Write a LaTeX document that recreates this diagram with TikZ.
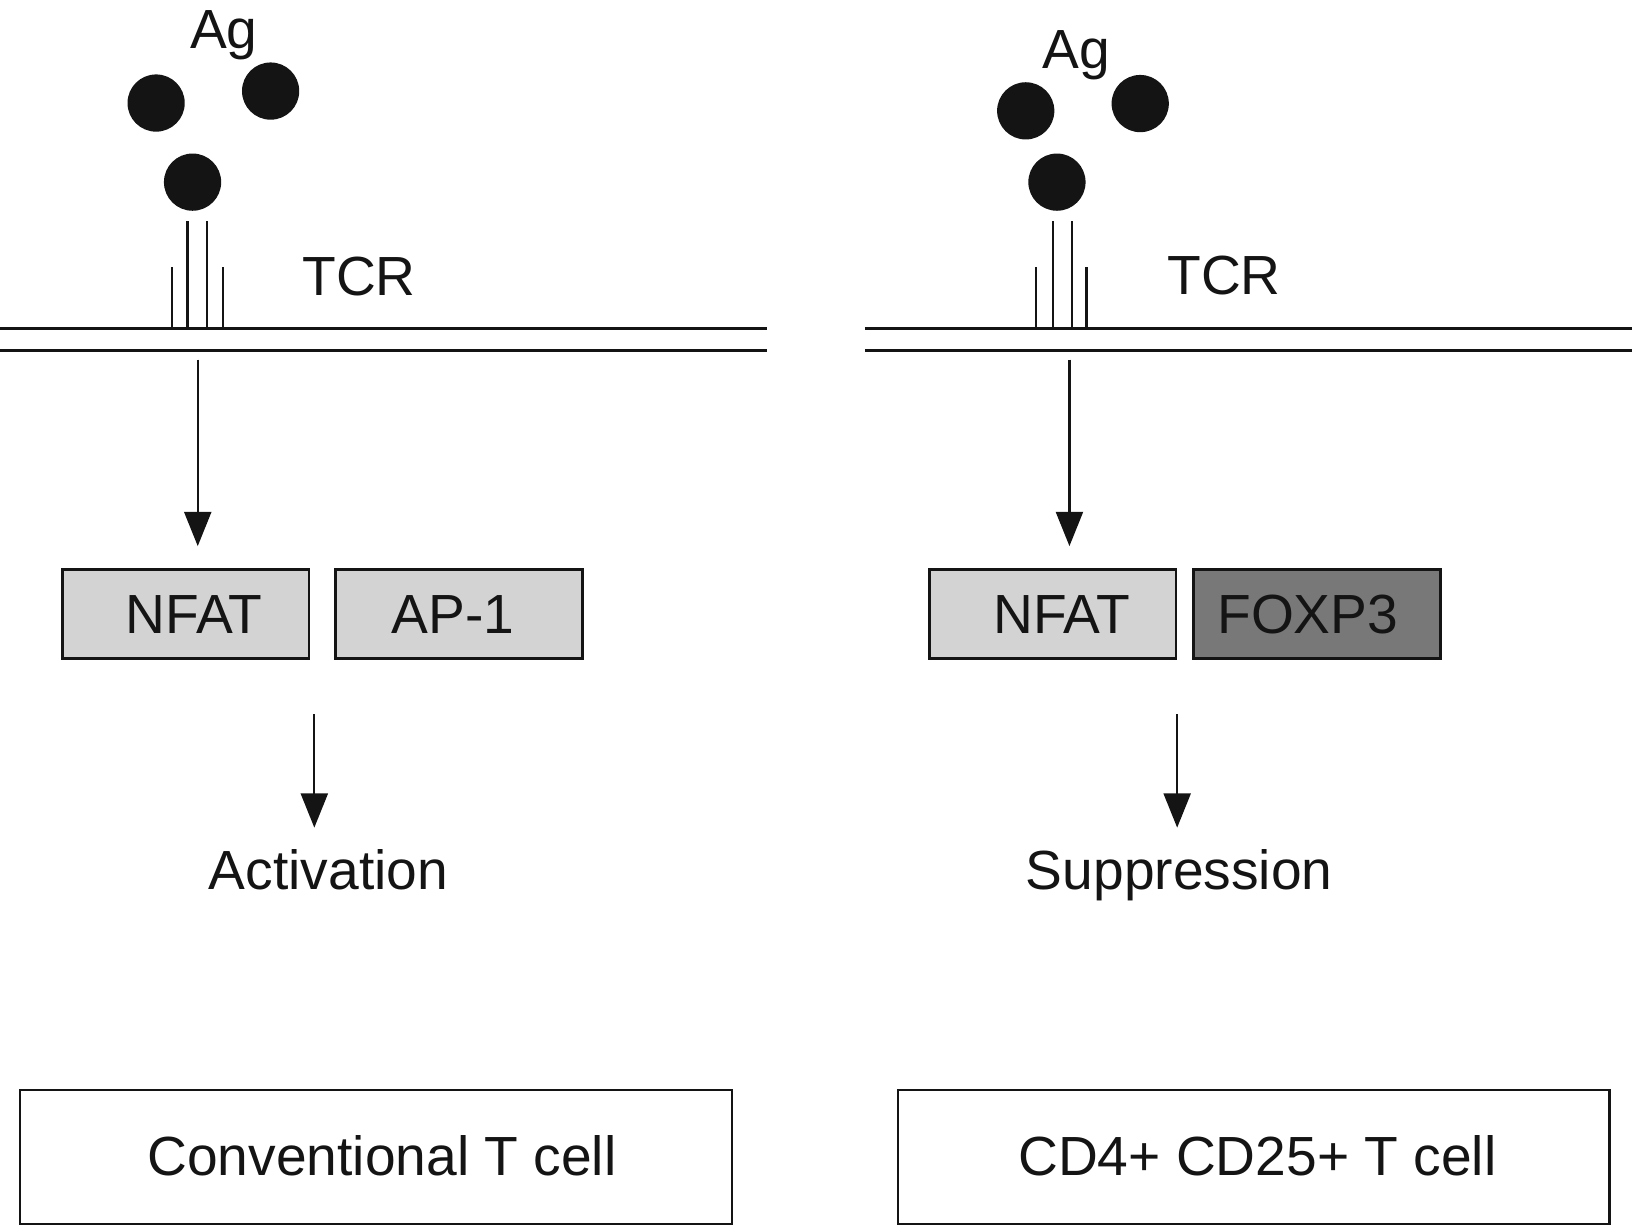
\documentclass[tikz,border=0pt]{standalone}
\usepackage{fontspec}
\setmainfont{Liberation Sans}
\usetikzlibrary{arrows.meta,calc}
\definecolor{ink}{HTML}{141414}
\definecolor{lightbox}{HTML}{D3D3D3}
\definecolor{darkbox}{HTML}{787878}
\begin{document}
\begin{tikzpicture}[x=0.5pt,y=-0.5pt,
  lbl/.style={font=\fontsize{26.5}{30}\selectfont, text=ink, inner sep=0pt},
  tfbox/.style={draw=ink, line width=1.3pt, minimum width=118.5pt, minimum height=43pt, inner sep=0pt, font=\fontsize{26.5}{30}\selectfont, text=ink},
  cellbox/.style={draw=ink, line width=1.15pt, fill=white, minimum width=342pt, minimum height=64.5pt, inner sep=0pt, font=\fontsize{26.5}{30}\selectfont, text=ink},
  agdot/.style={circle, fill=ink, minimum size=27.5pt, inner sep=0pt},
  mem/.style={line width=1.4pt, draw=ink},
  tcrline/.style={line width=1.15pt, draw=ink},
  arr/.style={line width=1.1pt, draw=ink, -{Triangle[width=13pt,length=16.5pt]}}
]
\useasboundingbox (0,0) rectangle (1568,1178);

% ---------------- left panel ----------------
\node[lbl, anchor=base] (agL) at (215,46.5) {Ag};
\node[agdot] (agL1) at (150,99) {};
\node[agdot] (agL2) at (260,87.5) {};
\node[agdot] (agL3) at (185,175) {};
\coordinate (memLt) at (0,315.5);
\coordinate (memLb) at (0,336.5);
\draw[mem] (memLt) -- ++(737,0);
\draw[mem] (memLb) -- ++(737,0);
\draw[tcrline] (180,212.5) -- (180,315.5);
\draw[tcrline] (199,212.5) -- (199,315.5);
\draw[tcrline] (165,257) -- (165,315.5);
\draw[tcrline] (214,257) -- (214,315.5);
\node[lbl, anchor=base] (tcrL) at (345,284) {TCR};

\node[tfbox, fill=lightbox] (nfatL) at (178.5,590) {\raisebox{-1pt}{\hspace{8pt}NFAT}};
\node[tfbox, fill=lightbox] (ap1) at (441,590) {\raisebox{-1pt}{AP-1\hspace{6pt}}};
\coordinate (a1L) at (190,0);
\draw[arr, shorten <=4.5pt, shorten >=10.5pt] (a1L |- memLb) -- (a1L |- nfatL.north);
\node[lbl, anchor=base] (act) at (315.5,855) {Activation};
\coordinate (a2L) at (302,0);
\draw[arr, shorten <=26pt, shorten >=10.5pt] (a2L |- nfatL.south) -- (a2L |- act.north);
\node[cellbox] (convL) at (361,1111.5) {\raisebox{1.5pt}{\hspace{6pt}Conventional T cell}};

% ---------------- right panel ----------------
\node[lbl, anchor=base] (agR) at (1034,66) {Ag};
\node[agdot] (agR1) at (985.5,106.5) {};
\node[agdot] (agR2) at (1095.5,99.5) {};
\node[agdot] (agR3) at (1015.5,175) {};
\coordinate (memRt) at (831,315.5);
\coordinate (memRb) at (831,336.5);
\draw[mem] (memRt) -- (1568,315.5);
\draw[mem] (memRb) -- (1568,336.5);
\draw[tcrline] (1011.5,212.5) -- (1011.5,315.5);
\draw[tcrline] (1030,212.5) -- (1030,315.5);
\draw[tcrline] (995.5,257) -- (995.5,315.5);
\draw[tcrline] (1044,257) -- (1044,315.5);
\node[lbl, anchor=base] (tcrR) at (1176,283) {TCR};

\node[tfbox, fill=lightbox] (nfatR) at (1011.5,590) {\raisebox{-1pt}{\hspace{8.5pt}NFAT}};
\node[tfbox, fill=darkbox] (foxp3) at (1265.5,590) {\raisebox{-1pt}{FOXP3\hspace{9pt}}};
\coordinate (a1R) at (1027.5,0);
\draw[arr, shorten <=4.5pt, shorten >=10.5pt] (a1R |- memRb) -- (a1R |- nfatR.north);
\node[lbl, anchor=base] (sup) at (1133,855) {Suppression};
\coordinate (a2R) at (1131,0);
\draw[arr, shorten <=26pt, shorten >=10.5pt] (a2R |- nfatR.south) -- (a2R |- sup.north);
\node[cellbox] (tregR) at (1204.5,1111.5) {\raisebox{1.5pt}{\hspace{3.5pt}CD4+ CD25+ T cell}};
\end{tikzpicture}
\end{document}
